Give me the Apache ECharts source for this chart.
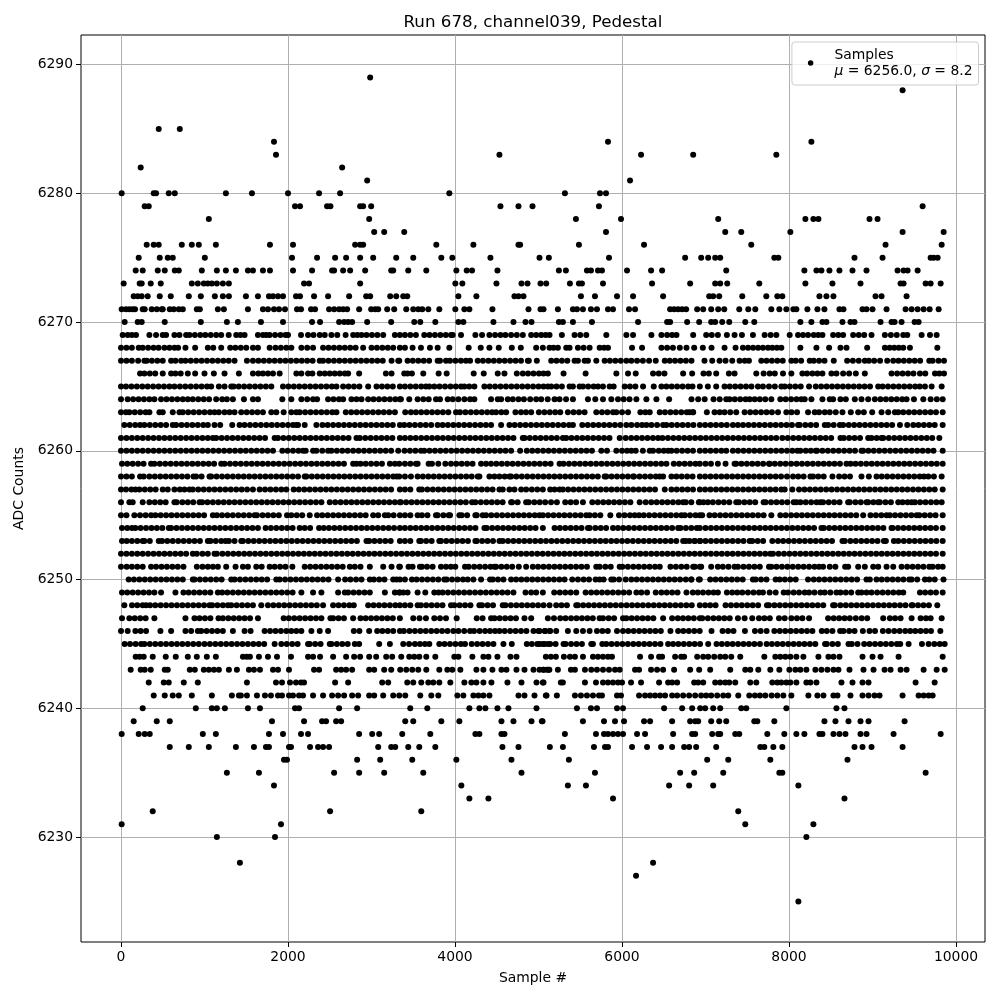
<!DOCTYPE html>
<html><head><meta charset="utf-8"><style>html,body{margin:0;background:#fff}#c{width:1000px;height:1000px}</style>
<script src="https://cdn.jsdelivr.net/npm/echarts@6/dist/echarts.min.js"></script></head><body><div id="c"></div>
<script>
const xTicks=[0,2000,4000,6000,8000,10000];
const yTicks=[6230,6240,6250,6260,6270,6280,6290];
const a6289=[2984];
const a6288=[9360];
const a6285=[452,704];
const a6284=[1832,5832,8268];
const a6283=[1856,4532,6228,6852,7848];
const a6282=[236,2648];
const a6281=[2948,6096];
const a6280=[8,392,420,572,644,1256,1568,2000,2372,2624,3932,5316,5736,5808];
const a6279=[284,332,2084,2144,2468,2508,2864,2900,2996,4544,4760,4928,5724,9600];
const a6278=[1052,2972,5448,5988,7152,8196,8292,8352,8964,9060];
const a6277=[3032,3152,3392,5808,7236,7428,8016,9360,9852];
const a6276=[308,392,452,728,848,932,1136,1784,2060,2804,2864,2900,3776,4220,4760,4780,5484,6264,7548,9156,9828];
const a6275=[212,464,560,620,1004,2048,2348,2564,2696,2864,3020,3296,3500,3836,3968,4424,5012,5124,5844,6756,6948,7032,7116,7176,7824,7872,8784,9120,9696,9732,9780];
const a6274=[176,260,440,524,644,692,968,1148,1256,1376,1520,1580,1700,1784,2060,2288,2528,2552,2660,2744,2924,3236,3260,3440,3656,4016,4140,4204,4508,5244,5328,5580,5628,5712,5760,6060,6348,6480,7248,8184,8328,8388,8484,8604,8760,8928,9300,9372,9420,9540];
const a6273=[32,224,248,356,476,848,920,992,1040,1088,1148,1220,1292,2192,2252,2864,4004,4088,4496,4796,4868,5024,5092,5376,5484,5520,5772,6360,6816,7116,7176,7260,7644,8196,8520,8856,9336,9372,9636,9696,9816];
const a6272=[152,200,248,320,464,596,812,956,1124,1220,1292,1496,1640,1772,1820,1880,1940,2096,2144,2312,2480,2732,2936,2984,3224,3296,3380,3428,4040,4256,4712,4760,4820,5508,5676,5940,6132,6492,7044,7092,7164,7440,7728,7860,7920,8364,8448,8532,9036,9108,9408];
const a6271=[8,60,100,140,168,260,284,368,428,488,500,584,632,692,740,908,944,1160,1232,1520,1700,1760,1832,1892,1964,2108,2156,2276,2324,2492,2552,2612,2660,2708,2852,2996,3044,3080,3188,3272,3416,3500,3560,3608,3680,3812,4004,4112,4172,4448,4880,5024,5060,5232,5412,5460,5532,5628,5700,5832,5892,6084,6156,6576,6624,6672,6720,6768,6900,6972,7068,7152,7224,7404,7512,7596,7788,7884,7968,8052,8088,8220,8340,8424,8604,8652,8880,8928,9000,9168,9396,9468,9540,9612,9684,9792];
const a6270=[44,200,248,524,956,1268,1400,1676,1940,2288,2384,2612,2672,2720,2768,2948,3236,3512,3584,3764,4040,4100,4460,4700,4844,4916,5244,5292,5412,5640,6192,6540,6576,6780,6924,7068,7116,7200,7284,7476,7584,8136,8268,8400,8448,8640,8736,8784,9096,9228,9264,9348,9504,9552];
const a6269=[20,80,130,180,340,420,500,540,640,700,780,820,885,950,1010,1075,1140,1200,1290,1380,1430,1480,1640,1700,1740,1780,1845,1910,1970,2000,2156,2240,2305,2380,2440,2520,2590,2690,2780,2830,2880,2940,3005,3070,3140,3280,3340,3400,3465,3532,3632,3695,3760,3825,3890,3952,3972,4072,4244,4324,4412,4480,4545,4604,4672,4740,4812,4912,4972,5032,5085,5132,5280,5432,5500,5572,5812,6052,6132,6352,6472,6540,6600,6652,6852,7008,7075,7148,7256,7348,7436,7568,7708,7780,7848,8008,8108,8168,8228,8296,8350,8400,8528,8590,8648,8768,8835,8900,8988,9148,9220,9290,9368,9416,9588,9688,9768];
const a6268=[0,65,130,212,260,325,390,450,520,580,640,684,772,888,1040,1105,1200,1308,1370,1435,1500,1580,1640,1780,1850,1915,1980,2040,2160,2230,2300,2420,2485,2550,2615,2680,2745,2810,2900,3000,3065,3130,3195,3260,3340,3400,3492,3592,3700,3792,3932,4164,4308,4412,4524,4680,4788,4972,5052,5132,5180,5232,5332,5372,5472,5540,5612,5732,5785,5832,6120,6240,6472,6540,6610,6692,6772,6864,6968,7072,7228,7360,7448,7510,7570,7630,7688,7748,7800,7855,7908,8136,8328,8480,8616,8688,8936,9148,9205,9260,9315,9368,9448,9776];
const a6267=[0,65,130,205,280,308,370,435,500,600,652,720,772,835,900,965,1030,1095,1160,1225,1290,1360,1508,1580,1645,1710,1775,1840,1905,1970,2035,2100,2165,2230,2295,2380,2420,2485,2550,2615,2680,2745,2810,2875,2940,3005,3070,3135,3240,3320,3332,3432,3495,3560,3625,3690,3792,3820,3892,3940,4005,4070,4130,4180,4272,4335,4400,4465,4530,4595,4660,4725,4790,4872,4884,4980,5152,5215,5280,5345,5432,5472,5552,5592,5692,5792,5855,5920,5985,6052,6112,6180,6250,6324,6404,6512,6572,6635,6700,6765,6832,6988,7080,7168,7240,7320,7408,7470,7520,7668,7730,7795,7860,7925,8028,8080,8145,8248,8296,8360,8425,8536,8696,8765,8835,8908,8956,9020,9090,9176,9248,9310,9375,9440,9505,9570,9680,9720,9790,9856];
const a6266=[228,280,345,410,500,600,652,715,800,888,1000,1112,1240,1412,1580,1645,1700,1760,1820,1900,2100,2160,2240,2292,2380,2440,2500,2560,2620,2680,2720,2852,3172,3240,3392,3432,3484,3620,3804,3900,4224,4344,4512,4592,4740,4812,4875,4940,5005,5060,5112,5300,5564,5932,6072,6164,6372,6440,6508,6732,6840,6976,7040,7128,7280,7348,7608,7696,7768,7830,7928,8028,8160,8216,8280,8340,8400,8508,8568,8648,8720,8800,8908,9228,9295,9360,9425,9490,9568,9632,9748,9800,9856];
const a6265=[0,60,125,190,255,320,385,450,515,580,640,705,770,835,900,965,1030,1080,1172,1240,1320,1348,1410,1475,1540,1605,1670,1735,1800,1940,2005,2070,2135,2200,2265,2330,2395,2460,2525,2580,2660,2725,2790,2855,2960,3060,3125,3190,3255,3340,3400,3465,3530,3595,3652,3692,3752,3815,3880,3945,4010,4072,4112,4170,4232,4352,4415,4480,4545,4610,4675,4740,4805,4870,4935,5000,5060,5112,5152,5215,5280,5372,5412,5492,5532,5595,5660,5712,5772,5852,5900,6032,6095,6160,6252,6380,6472,6532,6595,6660,6725,6792,6844,6932,7028,7128,7228,7290,7355,7420,7485,7550,7628,7688,7760,7830,7908,7948,8010,8075,8140,8240,8320,8385,8450,8515,8580,8645,8710,8775,8840,8905,8970,9068,9120,9185,9250,9315,9380,9445,9510,9565,9628,9708,9828];
const a6264=[0,80,145,210,275,340,400,480,545,610,675,740,800,860,925,990,1055,1140,1212,1268,1340,1472,1580,1640,1932,2040,2160,2230,2300,2348,2480,2545,2610,2660,2760,2820,2880,2960,3025,3090,3155,3220,3285,3340,3352,3452,3552,3620,3685,3772,3820,3912,3972,4040,4112,4180,4232,4432,4512,4552,4632,4692,4760,4825,4900,4972,5032,5110,5192,5252,5330,5412,5592,5680,5772,5872,5952,6020,6090,6172,6292,6412,6564,6832,6912,6990,7096,7170,7248,7288,7350,7415,7480,7528,7588,7650,7715,7788,7896,7960,8025,8090,8148,8188,8268,8400,8488,8528,8616,8680,8788,8868,8948,9028,9095,9160,9225,9290,9355,9408,9496,9608,9696,9770,9840];
const a6263=[0,60,100,165,230,295,340,460,500,620,700,740,805,870,935,1000,1065,1120,1172,1240,1300,1360,1440,1505,1570,1635,1700,1800,1860,1948,2040,2100,2140,2205,2270,2335,2400,2465,2530,2580,2692,2757,2822,2887,2952,3017,3082,3147,3212,3280,3404,3472,3532,3595,3660,3725,3790,3855,3920,4012,4060,4125,4190,4255,4320,4385,4444,4492,4555,4612,4724,4790,4850,4912,5004,5070,5135,5200,5260,5352,5420,5485,5552,5692,5760,5825,5892,5932,6000,6072,6220,6280,6332,6452,6515,6580,6645,6710,6775,6852,6808,6848,7016,7108,7170,7228,7296,7368,7468,7535,7600,7665,7730,7795,7868,7968,8030,8096,8228,8308,8360,8428,8488,8560,8640,8740,8828,8896,8996,9108,9188,9268,9308,9368,9435,9500,9565,9630,9695,9760,9840];
const a6262=[40,105,170,228,280,345,410,475,540,620,660,725,790,855,920,985,1040,1120,1188,1332,1420,1480,1545,1610,1675,1740,1805,1870,1935,2000,2060,2100,2120,2200,2340,2412,2475,2540,2605,2670,2735,2800,2865,2930,2995,3060,3125,3190,3255,3340,3392,3455,3520,3585,3650,3715,3792,3852,3915,3980,4045,4110,4175,4240,4305,4370,4432,4552,4652,4715,4780,4845,4910,4975,5040,5105,5170,5235,5300,5365,5412,5524,5590,5655,5720,5785,5850,5915,5980,6052,6112,6180,6240,6292,6352,6420,6492,6532,6595,6660,6725,6790,6855,6932,6995,7060,7125,7190,7255,7328,7388,7450,7515,7580,7645,7710,7775,7840,7905,7970,8035,8108,8128,8195,8260,8325,8428,8468,8535,8608,8648,8715,8780,8845,8910,8975,9040,9105,9170,9235,9328,9416,9488,9550,9615,9680,9745,9840];
const a6261=[0,65,130,195,260,325,390,455,520,585,650,715,780,845,910,975,1040,1100,1140,1205,1270,1335,1400,1465,1530,1595,1660,1725,1840,1880,1945,2010,2075,2140,2205,2270,2335,2400,2465,2530,2595,2660,2725,2820,2860,2925,2990,3055,3120,3185,3250,3340,3400,3465,3530,3595,3660,3725,3790,3855,3920,3985,4050,4115,4180,4245,4310,4375,4440,4505,4570,4635,4700,4812,4832,4895,4960,5025,5090,5155,5220,5292,5332,5395,5460,5525,5590,5655,5720,5785,5850,5972,6044,6110,6175,6240,6305,6370,6432,6484,6550,6615,6680,6745,6810,6875,6940,7005,7070,7135,7200,7265,7330,7395,7460,7525,7590,7655,7720,7785,7848,7920,7985,8050,8115,8180,8245,8310,8375,8440,8505,8616,8656,8720,8785,8850,8948,8988,9050,9108,9128,9195,9260,9325,9390,9455,9520,9585,9650,9715,9800];
const a6260=[0,65,130,195,260,325,390,455,520,585,650,715,780,845,910,975,1040,1105,1170,1235,1300,1365,1430,1495,1560,1625,1690,1755,1820,1932,1995,2060,2125,2180,2212,2300,2340,2410,2480,2520,2585,2650,2715,2780,2845,2910,2975,3040,3105,3170,3235,3320,3395,3460,3525,3592,3632,3695,3760,3825,3890,3955,4020,4085,4150,4215,4280,4345,4410,4475,4540,4605,4672,4780,4860,4925,4990,5055,5120,5185,5250,5315,5380,5445,5510,5575,5640,5752,5820,5932,6000,6060,6112,6164,6250,6332,6372,6440,6500,6552,6592,6655,6720,6785,6850,6932,6995,7060,7125,7190,7248,7328,7390,7455,7520,7585,7650,7715,7780,7845,7910,7975,8040,8100,8136,8200,8260,8320,8336,8400,8465,8530,8595,8660,8725,8790,8868,8888,8950,9015,9080,9145,9210,9275,9340,9405,9470,9535,9600,9665,9730,9840];
const a6259=[12,75,140,205,270,360,400,465,530,595,660,725,790,855,920,985,1050,1115,1200,1240,1305,1370,1435,1500,1565,1630,1695,1760,1825,1890,1955,2020,2085,2150,2215,2280,2345,2410,2475,2540,2605,2670,2780,2820,2868,2930,2995,3060,3125,3220,3280,3332,3400,3465,3532,3552,3684,3724,3800,3884,3952,4015,4080,4145,4210,4312,4372,4432,4495,4560,4625,4690,4755,4820,4885,4950,5015,5080,5145,5252,5300,5365,5430,5495,5560,5625,5690,5755,5820,5885,5950,6015,6080,6145,6210,6275,6340,6405,6470,6532,6620,6684,6750,6815,6880,6932,7000,7065,7148,7240,7348,7368,7430,7495,7560,7625,7690,7760,7768,7830,7895,7960,8025,8090,8155,8220,8285,8350,8415,8480,8545,8610,8688,8736,8796,8860,8925,8990,9055,9120,9185,9250,9315,9380,9445,9510,9575,9640,9705,9770,9840];
const a6258=[0,65,130,228,272,340,405,470,535,600,665,730,795,868,900,965,1060,1080,1145,1210,1275,1340,1405,1470,1535,1600,1665,1730,1795,1860,1925,1990,2055,2120,2200,2220,2285,2350,2415,2480,2545,2610,2675,2740,2805,2870,2935,3000,3065,3130,3195,3260,3300,3332,3400,3472,3552,3615,3680,3745,3810,3875,3940,4005,4070,4135,4200,4272,4292,4412,4472,4532,4595,4652,4672,4735,4800,4865,4930,4995,5060,5125,5190,5255,5320,5385,5450,5515,5580,5645,5710,5792,5812,5875,5940,6005,6070,6132,6144,6210,6275,6340,6405,6452,6492,6592,6652,6715,6780,6845,6932,6995,7060,7125,7190,7255,7320,7385,7450,7515,7580,7645,7710,7775,7840,7905,7976,8048,8110,8175,8256,8288,8350,8415,8520,8600,8665,8730,8868,8956,9048,9110,9175,9240,9305,9370,9435,9500,9565,9616,9668,9735,9828];
const a6257=[0,60,125,172,220,285,350,415,500,560,640,705,760,820,860,925,990,1055,1120,1185,1250,1315,1380,1445,1510,1580,1660,1725,1790,1855,1920,1980,2068,2130,2195,2260,2325,2390,2455,2520,2585,2650,2715,2780,2845,2910,2975,3040,3105,3170,3235,3340,3400,3465,3572,3604,3670,3735,3800,3865,3930,3995,4060,4125,4190,4255,4320,4385,4450,4532,4572,4652,4712,4792,4852,4920,4985,5052,5140,5192,5252,5292,5355,5420,5485,5550,5615,5680,5745,5810,5875,5940,6005,6070,6135,6200,6265,6330,6395,6512,6592,6655,6720,6785,6850,6932,6995,7060,7125,7190,7255,7320,7385,7450,7515,7580,7645,7710,7775,7840,7908,7948,8040,8120,8185,8250,8315,8380,8445,8510,8575,8640,8705,8770,8835,8900,8965,9030,9095,9160,9225,9290,9355,9420,9485,9550,9615,9680,9745,9840];
const a6256=[0,100,140,260,340,405,470,535,640,668,735,800,865,940,972,1035,1100,1165,1230,1295,1360,1425,1490,1555,1620,1685,1750,1815,1880,1945,2010,2075,2140,2205,2270,2335,2400,2500,2565,2630,2695,2760,2825,2890,2955,3020,3085,3150,3215,3280,3340,3352,3415,3480,3545,3610,3675,3740,3805,3870,3935,4000,4065,4130,4204,4244,4310,4375,4440,4505,4570,4672,4684,4750,4852,4884,4950,5015,5080,5150,5220,5320,5385,5450,5532,5644,5710,5775,5840,5905,5970,6035,6100,6212,6284,6350,6415,6480,6545,6610,6675,6732,6764,6830,6932,6920,6976,7028,7088,7155,7220,7285,7368,7400,7465,7530,7595,7696,7720,7785,7850,7915,7980,8056,8088,8136,8200,8265,8330,8376,8408,8475,8540,8605,8708,8728,8795,8860,8928,8948,9010,9068,9088,9155,9220,9308,9360,9420,9468,9508,9570,9635,9700,9765,9828];
const a6255=[0,65,160,228,295,360,412,475,540,605,670,735,800,865,930,995,1100,1148,1210,1275,1340,1405,1470,1535,1600,1628,1695,1760,1825,1890,1988,2040,2105,2170,2260,2348,2410,2475,2540,2605,2670,2735,2800,2865,2930,3020,3080,3160,3200,3265,3340,3400,3465,3552,3604,3670,3772,3792,3860,3924,3940,4052,4080,4145,4244,4260,4332,4372,4435,4500,4565,4630,4695,4760,4825,4890,4955,5012,5052,5115,5180,5245,5310,5375,5440,5505,5572,5612,5675,5740,5860,5964,6030,6095,6152,6204,6260,6325,6390,6455,6520,6585,6650,6712,6752,6815,6880,6932,6960,7048,7110,7175,7240,7305,7370,7435,7500,7565,7630,7696,7788,7896,7960,8025,8090,8155,8220,8285,8350,8415,8480,8545,8610,8675,8740,8805,8888,8976,9040,9105,9168,9208,9270,9335,9400,9465,9528,9560,9625,9690,9755,9840];
const a6254=[12,75,132,172,235,300,365,430,495,572,600,665,730,795,860,925,990,1055,1120,1185,1250,1315,1380,1445,1510,1575,1640,1732,1795,1860,1925,1990,2055,2140,2200,2265,2372,2428,2490,2555,2620,2685,2750,2815,2880,2945,3010,3075,3140,3205,3270,3340,3400,3465,3530,3595,3660,3725,3790,3855,3920,3985,4050,4115,4180,4245,4352,4380,4445,4510,4575,4640,4705,4770,4835,4900,4965,5052,5192,5255,5320,5385,5450,5515,5592,5612,5680,5745,5810,5892,5952,6015,6080,6145,6210,6275,6340,6405,6470,6535,6600,6672,6700,6765,6830,6895,6932,7000,7065,7130,7195,7260,7325,7390,7455,7520,7585,7650,7715,7780,7845,7910,7975,8040,8105,8170,8235,8300,8388,8416,8480,8545,8610,8675,8740,8805,8870,8935,9000,9065,9130,9228,9240,9305,9370,9435,9500,9565,9630,9695,9760,9840];
const a6253=[12,68,130,195,260,280,345,452,492,555,620,685,750,815,880,945,1040,1072,1135,1200,1252,1292,1360,1440,1460,1525,1590,1655,1720,1785,1850,1915,1980,2045,2110,2175,2240,2305,2370,2435,2500,2565,2630,2695,2760,2825,2940,2972,3035,3100,3165,3230,3340,3400,3465,3572,3592,3655,3720,3812,3832,3895,3960,4025,4090,4155,4244,4260,4325,4390,4455,4532,4572,4635,4700,4765,4830,4895,4960,5025,5090,5155,5220,5285,5350,5415,5480,5545,5610,5675,5740,5805,5870,5935,6000,6065,6130,6195,6260,6325,6390,6455,6520,6585,6650,6732,6764,6872,6932,6808,6868,6935,7000,7065,7130,7195,7260,7325,7390,7455,7528,7560,7625,7690,7800,7868,7930,7995,8060,8125,8190,8255,8320,8385,8450,8515,8640,8668,8735,8800,8865,8930,8995,9060,9136,9160,9256,9308,9375,9440,9505,9570,9635,9700,9765,9840];
const a6252=[0,65,130,195,260,325,390,455,520,585,650,715,780,860,908,975,1040,1120,1148,1215,1280,1345,1410,1475,1540,1605,1670,1735,1800,1865,1930,1995,2060,2125,2190,2255,2320,2385,2450,2515,2580,2645,2710,2775,2840,2905,2970,3035,3100,3165,3230,3295,3360,3425,3490,3555,3620,3685,3750,3815,3880,3945,4010,4075,4140,4205,4270,4335,4400,4465,4530,4595,4660,4725,4790,4855,4920,4985,5050,5115,5180,5245,5310,5375,5440,5505,5570,5635,5700,5765,5830,5895,5960,6025,6090,6155,6220,6285,6350,6415,6480,6545,6610,6675,6740,6805,6870,6935,7000,7065,7130,7195,7260,7325,7390,7455,7520,7585,7650,7715,7776,7808,7875,7940,8005,8070,8135,8200,8265,8330,8395,8460,8525,8590,8655,8720,8785,8850,8915,8980,9045,9110,9175,9240,9305,9370,9435,9500,9565,9630,9695,9760,9840];
const a6251=[0,68,130,195,260,360,420,485,550,615,680,748,908,975,1040,1100,1160,1260,1372,1460,1520,1620,1685,1780,1840,1905,1970,2052,2200,2265,2330,2395,2460,2525,2590,2655,2740,2800,2868,2980,3140,3240,3340,3332,3444,3492,3580,3604,3665,3732,3832,3892,3950,4004,4120,4164,4230,4295,4360,4425,4472,4492,4555,4620,4685,4764,4852,4932,4995,5060,5125,5190,5255,5320,5385,5450,5515,5580,5692,5732,5800,5865,5972,6004,6070,6135,6200,6265,6330,6395,6452,6580,6645,6710,6775,6852,6872,6932,6948,7068,7148,7208,7275,7348,7388,7455,7520,7585,7650,7760,7788,7850,7915,7980,8045,8110,8175,8240,8305,8360,8408,8488,8555,8672,8708,8828,8908,9008,9068,9168,9248,9348,9415,9480,9545,9610,9680,9720,9785,9840];
const a6250=[92,155,220,285,350,415,480,545,610,675,740,860,880,945,1010,1075,1140,1205,1320,1360,1425,1490,1555,1620,1685,1750,1860,1900,1965,2030,2095,2160,2225,2290,2355,2420,2485,2600,2684,2748,2815,2880,2980,3028,3092,3155,3260,3300,3340,3400,3484,3540,3605,3670,3735,3800,3872,3900,3965,4030,4095,4152,4220,4312,4420,4452,4515,4580,4672,4732,4795,4860,4925,4990,5055,5120,5185,5250,5312,5404,5472,5540,5605,5684,5732,5780,5872,5900,5965,6044,6112,6175,6240,6305,6370,6435,6500,6565,6630,6695,6764,6832,6932,6828,6920,7056,7120,7185,7250,7315,7380,7445,7568,7600,7665,7730,7840,7888,7950,8015,8080,8228,8296,8360,8425,8490,8555,8620,8685,8750,8815,8928,8968,9048,9110,9175,9240,9305,9370,9440,9468,9535,9628,9680,9745,9850];
const a6249=[12,75,140,205,270,335,400,480,652,748,810,875,940,1005,1070,1160,1212,1275,1340,1405,1470,1535,1600,1665,1730,1795,1860,1925,1990,2055,2160,2300,2400,2600,2680,2720,2785,2850,2915,2980,3160,3280,3340,3332,3380,3432,3552,3644,3752,3804,3852,3915,3980,4045,4110,4175,4240,4305,4370,4435,4500,4565,4630,4700,4844,4912,4972,5052,5188,5255,5320,5385,5452,5564,5630,5695,5760,5825,5890,5955,6020,6085,6172,6232,6300,6404,6472,6535,6600,6665,6772,6848,6908,6970,7035,7096,7148,7256,7320,7380,7440,7508,7575,7640,7688,7768,7840,7936,7988,8055,8120,8188,8240,8305,8376,8428,8495,8568,8616,8680,8745,8828,8868,8928,8988,9055,9120,9185,9250,9315,9368,9568,9630,9695,9760,9840];
const a6248=[40,132,195,260,300,348,410,475,540,605,670,735,800,865,930,995,1060,1092,1155,1220,1280,1320,1385,1450,1515,1580,1680,1760,1825,1890,1955,2020,2085,2150,2215,2280,2345,2420,2540,2605,2670,2735,2788,2960,3025,3090,3155,3220,3285,3340,3400,3465,3552,3592,3655,3720,3785,3850,3952,3992,4055,4120,4185,4292,4324,4390,4455,4572,4604,4670,4735,4800,4865,4930,4995,5060,5132,5212,5275,5340,5452,5472,5535,5600,5665,5730,5795,5860,5925,5990,6055,6120,6185,6250,6315,6380,6445,6510,6575,6640,6705,6770,6835,6932,6995,7056,7120,7240,7305,7370,7435,7500,7565,7630,7736,7760,7825,7890,7955,8020,8085,8150,8215,8280,8345,8410,8528,8548,8615,8680,8745,8810,8875,8940,9005,9070,9135,9200,9265,9330,9395,9468,9480,9545,9610,9675,9776];
const a6247=[12,100,165,230,295,400,772,880,940,1005,1070,1168,1220,1285,1350,1415,1480,1545,1640,1948,2010,2075,2140,2205,2270,2335,2400,2508,2540,2605,2670,2780,2868,2930,2995,3060,3125,3190,3255,3340,3500,3575,3652,3752,3820,3892,4020,4260,4330,4432,4472,4535,4600,4665,4730,4832,4912,5112,5185,5260,5324,5390,5455,5520,5585,5650,5732,5772,5840,5905,6012,6052,6115,6180,6245,6310,6375,6492,6600,6668,6730,6795,6860,6932,6960,7028,7095,7160,7225,7290,7388,7468,7560,7640,7705,7770,7880,7948,8028,8095,8160,8240,8468,8535,8600,8665,8728,8800,8870,8936,9128,9208,9270,9336,9468,9576,9640,9696,9828];
const a6246=[0,80,172,235,300,472,600,772,840,920,960,1025,1090,1155,1220,1340,1480,1552,1720,1785,1850,1915,1980,2040,2100,2160,2280,2380,2480,2788,2855,2972,3068,3130,3195,3260,3340,3388,3455,3520,3585,3650,3715,3780,3845,3910,3980,4040,4110,4180,4228,4295,4360,4420,4480,4532,4595,4660,4725,4790,4855,4940,5000,5080,5132,5012,5075,5140,5212,5352,5452,5532,5612,5700,5765,5830,5940,6012,6075,6140,6205,6270,6335,6400,6465,6580,6672,6735,6800,6865,6930,7072,7204,7270,7335,7472,7592,7660,7732,7824,7890,7955,8020,8085,8150,8215,8280,8392,8452,8520,8612,8652,8720,8785,8884,8964,9030,9124,9192,9260,9325,9392,9452,9512,9575,9640,9700,9812];
const a6245=[44,108,175,240,280,345,410,475,540,605,670,735,800,865,932,1000,1065,1130,1195,1260,1325,1390,1455,1520,1585,1650,1715,1840,1920,1985,2050,2115,2240,2260,2325,2390,2500,2520,2585,2650,2715,2800,2852,3092,3220,3380,3450,3520,3580,3640,3692,3812,3875,3940,4005,4070,4120,4200,4265,4330,4395,4460,4580,4680,4860,4920,4985,5050,5115,5012,5075,5140,5205,5300,5324,5390,5455,5520,5632,5652,5764,5812,5875,5940,6005,6070,6135,6200,6265,6330,6395,6460,6552,6612,6675,6740,6805,6870,6935,7032,7132,7195,7260,7325,7390,7455,7520,7585,7652,7732,7795,7860,7925,7990,8055,8120,8185,8250,8315,8432,8452,8520,8585,8712,8752,8820,8900,8964,9030,9095,9160,9225,9292,9332,9432,9592,9672,9740,9805,9864];
const a6244=[176,224,272,380,536,656,800,908,1028,1136,1460,1505,1544,1652,1760,1868,2036,2240,2300,2384,2540,2696,2792,2864,2972,3056,3176,3248,3356,3452,3512,3572,3656,3764,3992,4040,4208,4340,4400,4508,4664,4736,5088,5148,5208,5304,5376,5436,5532,5652,5712,5772,5832,5880,6216,6348,6444,6480,6636,6708,6744,6900,6972,7032,7104,7176,7236,7308,7416,7704,7836,7896,7956,8016,8088,8172,8352,8472,8532,8604,8880,9000,9096,9312,9840];
const a6243=[116,236,284,356,524,560,824,884,992,1052,1112,1172,1292,1388,1532,1592,1664,1820,1880,2012,2312,2372,2576,2636,2696,2768,2972,3032,3152,3236,3344,3416,3488,3560,3656,3812,3908,3968,4064,4256,4340,4448,4556,4616,4736,4832,4940,5060,5120,5012,5060,5100,5130,5232,5388,5436,5556,5632,5700,5772,5844,5916,5972,6156,6204,6348,6420,6492,6624,6816,6924,7056,7296,7476,7536,7632,7776,7884,8004,8076,8136,8208,8316,8388,8460,8532,8592,8724,8892,9012,9144,9216,9336,9408,9612,9768,9864];
const a6242=[332,512,572,752,920,1508,1856,1928,2024,2096,2156,2192,2564,2720,3128,3200,3428,3500,3596,3680,3740,3812,3944,4112,4196,4256,4340,4436,4628,4796,4976,5052,5060,5268,5292,5556,5688,5772,5832,5892,5952,6000,6108,6228,6444,6552,6600,6660,6864,6912,6972,7116,7176,7236,7284,7356,7536,7608,7800,7860,7908,7968,8016,8088,8208,8256,8328,8628,8760,8880,8952,9516,9744];
const a6241=[392,524,620,692,848,1088,1328,1412,1436,1508,1628,1724,1796,1880,1928,2012,2060,2132,2180,2300,2420,2528,2600,2672,2768,2840,2972,3032,3140,3260,3332,3404,3584,3716,3800,4028,4100,4220,4280,4340,4412,4760,4832,4952,5088,5096,5220,5436,5508,5580,5652,5724,5760,5940,5988,6204,6276,6336,6396,6456,6516,6600,6660,6732,6804,6876,6948,7008,7068,7140,7212,7272,7392,7524,7592,7652,7716,7792,7860,7932,8028,8232,8340,8412,8532,8580,8736,8880,8952,9024,9084,9360,9552,9612,9672,9720];
const a6240=[260,896,1088,1148,1244,1520,1664,2084,2132,2612,2828,3464,3668,4172,4292,4364,4508,4640,4976,5460,5628,5700,5940,6012,6504,6720,6840,6936,6996,7092,7176,7428,7488,7968,8568,8664];
const a6239=[152,428,584,1808,2192,2408,2456,2576,2636,3404,3500,3836,4052,4556,4700,4916,5048,5040,5532,5784,5916,6024,6264,6336,6600,6816,6876,6912,7068,7164,7248,7584,7620,7824,8424,8556,8712,8856,8952,9384];
const a6238=[8,212,284,344,980,1136,1772,1940,2156,2240,2852,3008,3092,3368,3704,4244,4292,4556,4592,5316,5688,5784,5832,5892,5952,6012,6180,6276,6612,6840,6876,7080,7152,7176,7356,7404,7740,7944,8088,8184,8364,8400,8532,8604,8676,8856,8928,9252,9816];
const a6237=[584,812,1052,1376,1592,1736,1772,2012,2036,2264,2360,2420,2492,3080,3236,3284,3440,3572,3764,4568,4760,5136,5292,5664,5796,5832,6120,6300,6468,6600,6744,6804,6888,7128,7656,7704,7812,7920,8784,8880,8988,9360];
const a6236=[1952,1988,2828,3104,3488,4016,4676,5364,7020,7272,7776,8700];
const a6235=[1268,1652,2552,2852,3152,3620,4796,5676,6696,6864,7212,7884,7920,9636];
const a6234=[1832,4076,5352,5568,6564,6804,7092,8112];
const a6233=[4172,4400,5892,8664];
const a6232=[380,2504,3596,7392];
const a6231=[8,1916,7476,8292];
const a6230=[1148,1844,8208];
const a6228=[1424,6372];
const a6227=[6168];
const a6225=[8112];
const levels=[[6289,a6289],[6288,a6288],[6285,a6285],[6284,a6284],[6283,a6283],[6282,a6282],[6281,a6281],[6280,a6280],[6279,a6279],[6278,a6278],[6277,a6277],[6276,a6276],[6275,a6275],[6274,a6274],[6273,a6273],[6272,a6272],[6271,a6271],[6270,a6270],[6269,a6269],[6268,a6268],[6267,a6267],[6266,a6266],[6265,a6265],[6264,a6264],[6263,a6263],[6262,a6262],[6261,a6261],[6260,a6260],[6259,a6259],[6258,a6258],[6257,a6257],[6256,a6256],[6255,a6255],[6254,a6254],[6253,a6253],[6252,a6252],[6251,a6251],[6250,a6250],[6249,a6249],[6248,a6248],[6247,a6247],[6246,a6246],[6245,a6245],[6244,a6244],[6243,a6243],[6242,a6242],[6241,a6241],[6240,a6240],[6239,a6239],[6238,a6238],[6237,a6237],[6236,a6236],[6235,a6235],[6234,a6234],[6233,a6233],[6232,a6232],[6231,a6231],[6230,a6230],[6228,a6228],[6227,a6227],[6225,a6225]];
const points=[];
levels.forEach(([y,xs])=>xs.forEach(x=>points.push([x,y])));
const font='"DejaVu Sans"';
const chart=echarts.init(document.getElementById('c'),null,{renderer:'canvas'});
const axisCommon={
  axisLine:{show:false,onZero:false},
  axisTick:{show:true,length:5,lineStyle:{color:'#000',width:1}},
  axisLabel:{color:'#000',fontFamily:font,fontSize:13.9,margin:8,formatter:v=>String(v)},
  splitLine:{show:true,lineStyle:{color:'#b0b0b0',width:1}},
  nameLocation:'middle',
  nameTextStyle:{color:'#000',fontFamily:font,fontSize:13.9}
};
chart.setOption({
  animation:false,
  backgroundColor:'#fff',
  title:{text:'Run 678, channel039, Pedestal',left:528,top:9,textAlign:'center',textStyle:{fontFamily:font,fontSize:16.7,fontWeight:'normal',color:'#000'}},
  grid:{left:81,right:15,top:35,bottom:58,show:true,borderColor:'#000',borderWidth:1,backgroundColor:'#fff'},
  xAxis:Object.assign({},axisCommon,{type:'value',min:-479,max:10347,name:'Sample #',nameGap:29,
    axisTick:Object.assign({},axisCommon.axisTick,{customValues:xTicks}),
    axisLabel:Object.assign({},axisCommon.axisLabel,{customValues:xTicks})}),
  yAxis:Object.assign({},axisCommon,{type:'value',min:6221.85,max:6292.3,name:'ADC Counts',nameGap:47,
    axisTick:Object.assign({},axisCommon.axisTick,{customValues:yTicks}),
    axisLabel:Object.assign({},axisCommon.axisLabel,{customValues:yTicks})}),
  legend:{show:true,right:21.5,top:42,orient:'vertical',icon:'circle',itemWidth:5.5,itemHeight:5.5,padding:[6,6,7,16],
    backgroundColor:'rgba(255,255,255,0.8)',borderColor:'#ccc',borderWidth:1,borderRadius:3,
    formatter:()=>'{a|Samples}\n{i|μ}{a| = 6256.0, }{i|σ}{a| = 8.2}',
    textStyle:{fontFamily:font,fontSize:13.9,color:'#000',padding:[0,0,0,16],
      rich:{a:{fontFamily:font,fontSize:13.9,color:'#000',lineHeight:16},i:{fontFamily:font,fontSize:13.9,fontStyle:'italic',color:'#000',lineHeight:16}}}},
  series:[{name:'Samples',type:'scatter',data:points,symbol:'circle',symbolSize:6,itemStyle:{color:'#000',opacity:1},silent:true,progressive:0,large:false,z:3,clip:true}]
});
</script></body></html>
